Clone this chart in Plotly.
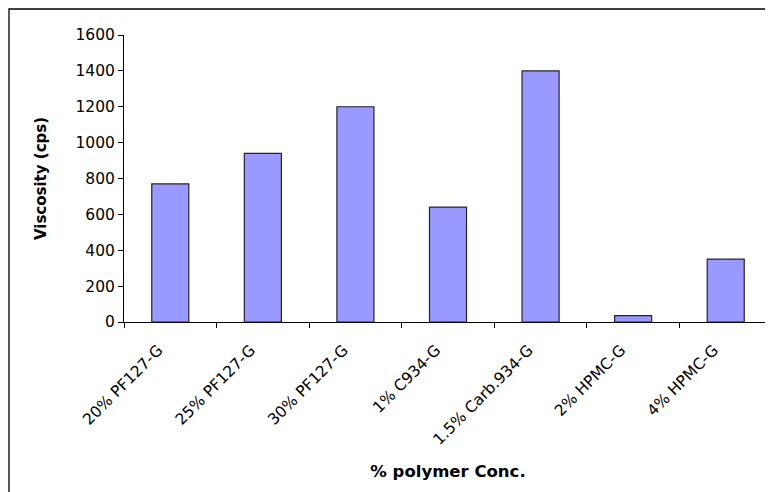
import plotly.graph_objects as go

categories = ["20% PF127-G", "25% PF127-G", "30% PF127-G", "1% C934-G",
              "1.5% Carb.934-G", "2% HPMC-G", "4% HPMC-G"]
viscosity = [770, 940, 1200, 640, 1400, 35, 350]
y_ticks = [0, 200, 400, 600, 800, 1000, 1200, 1400, 1600]

# page has an 8px body margin, so the figure is sized to fill the rest
W, H = 765, 484
L, R, T, B = 116, 1, 27, 170
pw, ph = W - L - R, H - T - B

FONT = "DejaVu Sans, Verdana, sans-serif"

fig = go.Figure(go.Bar(
    x=categories, y=viscosity,
    marker=dict(color="#9999FF", line=dict(color="#222233", width=1.2)),
))

fig.update_layout(
    width=W, height=H,
    margin=dict(l=L, r=R, t=T, b=B),
    paper_bgcolor="white", plot_bgcolor="white",
    bargap=0.6, showlegend=False,
    font=dict(family=FONT, size=15, color="black"),
    xaxis=dict(
        type="category", tickson="boundaries", ticks="outside", ticklen=5,
        tickcolor="black", showline=True, linecolor="black", linewidth=1,
        tickangle=-45, showgrid=False, ticklabelshift=-12, ticklabelstandoff=12,
        tickfont=dict(size=15.5),
        title=dict(text="<b>% polymer Conc.</b>", font=dict(size=16.5), standoff=17),
    ),
    yaxis=dict(
        range=[0, 1600], tickvals=y_ticks, ticks="outside", ticklen=5,
        tickcolor="black", showline=True, linecolor="black", linewidth=1,
        showgrid=False, zeroline=False, tickfont=dict(size=15.5),
        title=dict(text="<b>Viscosity (cps)</b>", font=dict(size=15), standoff=25),
    ),
)

# outer chart border (runs off the window on right and bottom)
fig.add_shape(type="rect", xref="paper", yref="paper",
              x0=(1 - L) / pw, x1=(W + 10 - L) / pw,
              y0=-(B + 10) / ph, y1=(ph + T - 1) / ph,
              line=dict(color="black", width=1.3), fillcolor="rgba(0,0,0,0)",
              layer="below")

fig.write_html("out.html")
